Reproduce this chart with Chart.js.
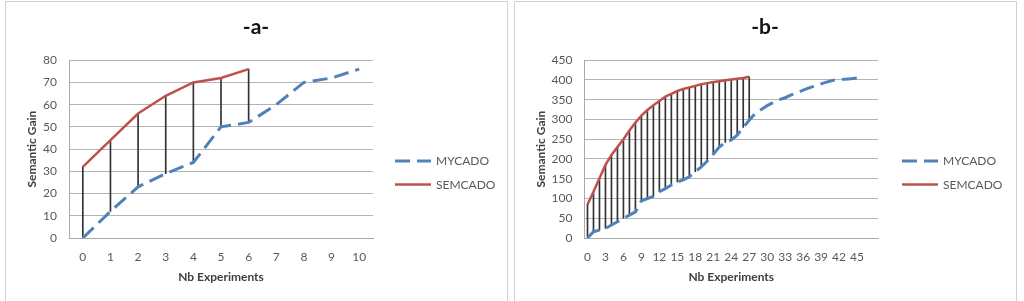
<!DOCTYPE html>
<html><head><meta charset="utf-8">
<script src="https://cdn.jsdelivr.net/npm/chart.js@4/dist/chart.umd.min.js"></script>
<style>
html,body{margin:0;padding:0;background:#fff;}
body{width:1024px;height:301px;position:relative;overflow:hidden;}
.panel{position:absolute;top:1px;height:330px;border:1px solid #d2d2d2;box-sizing:border-box;}
#pa{left:5px;width:503px;}
#pb{left:514px;width:503px;}
canvas{position:absolute;top:0;}
#ca{left:5px;}
#cb{left:514px;}
</style></head><body>
<div class="panel" id="pa"></div><div class="panel" id="pb"></div>
<canvas id="ca" width="502" height="301"></canvas>
<canvas id="cb" width="502" height="301"></canvas>
<script>
// ---------- data: chart -a- ----------
const titleA = '-a-';
const catsA = ['0','1','2','3','4','5','6','7','8','9','10'];
const mycadoA = [0, 12, 23, 29, 34, 50, 52, 60, 70, 72, 76];
const semcadoA = [32, 44, 56, 64, 70, 72, 76];
const yMaxA = 80, yStepA = 10;

// ---------- data: chart -b- ----------
const titleB = '-b-';
const catsB = ['0','1','2','3','4','5','6','7','8','9','10','11','12','13','14','15','16','17','18','19',
  '20','21','22','23','24','25','26','27','28','29','30','31','32','33','34','35','36','37','38','39',
  '40','41','42','43','44','45','46','',''];
const mycadoB = [0, 16, 20, 24, 33, 41, 50, 58, 66, 94, 100, 105, 117, 125, 134, 142, 147, 155, 168, 180,
  195, 212, 230, 242, 248, 260, 280, 298, 315, 325, 335, 343, 350, 355, 362, 368, 374, 380, 385, 390,
  395, 399, 401, 402, 403, 405, 408];
const semcadoB = [85, 117, 151, 185, 210, 230, 250, 272, 292, 310, 324, 336, 347, 358, 365, 372, 377, 381, 385, 389,
  392, 395, 397, 399, 401, 403, 405, 408];
const yMaxB = 450, yStepB = 50;

const seriesNames = ['MYCADO', 'SEMCADO'];
const xTitle = 'Nb Experiments';
const yTitle = 'Semantic Gain';

// ---------- styling ----------
const FONT = 'Lato';
const BLUE = '#4f81bd', RED = '#c0504d';
const GRID = '#b4b4b4', AXIS = '#a8a8a8', TICK = '#595959', TITLE = '#404040';

const sideLegend = {
  id: 'sideLegend',
  afterDraw(chart, args, o) {
    const ctx = chart.ctx;
    ctx.save();
    o.names.forEach((name, k) => {
      const ds = chart.data.datasets.find(d => d.label === name);
      const y = o.y + k * o.step;
      ctx.beginPath();
      ctx.strokeStyle = ds.borderColor;
      ctx.lineWidth = ds.borderWidth;
      ctx.setLineDash(ds.borderDash || []);
      ctx.moveTo(o.x, y);
      ctx.lineTo(o.x + o.len, y);
      ctx.stroke();
      ctx.setLineDash([]);
      ctx.fillStyle = TICK;
      ctx.font = '12px ' + FONT;
      ctx.textBaseline = 'middle';
      ctx.textAlign = 'left';
      ctx.fillText(name, o.x + o.len + o.gap, y + 0.5);
    });
    ctx.restore();
  }
};

function makeChart(id, title, cats, my, sem, yMax, yStep, geo, everyN) {
  const drops = sem.map((v, i) => [my[i], v]);
  return new Chart(document.getElementById(id), {
    type: 'line',
    data: {
      labels: cats,
      datasets: [
        { type: 'line', label: seriesNames[1], data: sem, borderColor: RED, borderWidth: 2.5,
          pointRadius: 0, fill: false, tension: 0, order: 1 },
        { type: 'line', label: seriesNames[0], data: my, borderColor: BLUE, borderWidth: 3,
          borderDash: [15, 7], pointRadius: 0, fill: false, tension: 0, order: 2 },
        { type: 'bar', label: 'drop', data: drops, backgroundColor: '#333333', borderWidth: 0,
          barThickness: 1, grouped: false, order: 3 }
      ]
    },
    options: {
      responsive: false, animation: false, devicePixelRatio: 1,
      layout: { padding: { left: 0, right: 0, top: 0, bottom: 0 } },
      plugins: {
        legend: { display: false }, tooltip: { enabled: false },
        title: { display: true, text: title, color: '#111', font: { family: FONT, size: 21, weight: 'bold' },
          padding: { top: 15, bottom: 20 } },
        sideLegend: { names: seriesNames, x: geo.lx, y: 161, step: 23.5, len: 36, gap: 5 }
      },
      scales: {
        x: {
          offset: true,
          grid: { display: false, drawTicks: false },
          border: { display: true, color: AXIS, width: 1 },
          ticks: { autoSkip: false, maxRotation: 0, minRotation: 0, padding: 12, color: TICK,
            font: { family: FONT, size: 12 },
            callback: function (v, i) { return i % everyN === 0 ? this.getLabelForValue(v) : ''; } },
          title: { display: true, text: xTitle, color: TITLE, font: { family: FONT, size: 12, weight: 'bold' },
            padding: { top: 0, bottom: 17 } },
          afterFit: s => { s.height = 63; }
        },
        y: {
          min: 0, max: yMax,
          grid: { color: GRID, drawTicks: false, lineWidth: 1 },
          border: { display: true, color: AXIS, width: 1 },
          ticks: { stepSize: yStep, padding: 12, color: TICK, font: { family: FONT, size: 12 } },
          title: { display: true, text: yTitle, color: TITLE, font: { family: FONT, size: 12, weight: 'bold' },
            padding: { top: 20, bottom: 0 } },
          afterFit: s => { s.width = geo.left; }
        },
        side: {
          type: 'linear', position: 'right', display: true,
          grid: { display: false, drawTicks: false },
          border: { display: false },
          ticks: { display: false },
          afterFit: s => { s.width = geo.right; }
        }
      }
    },
    plugins: [sideLegend]
  });
}

makeChart('ca', titleA, catsA, mycadoA, semcadoA, yMaxA, yStepA, { left: 64, right: 134, lx: 390 }, 1);
makeChart('cb', titleB, catsB, mycadoB, semcadoB, yMaxB, yStepB, { left: 70.5, right: 138, lx: 388 }, 3);
</script>
</body></html>
